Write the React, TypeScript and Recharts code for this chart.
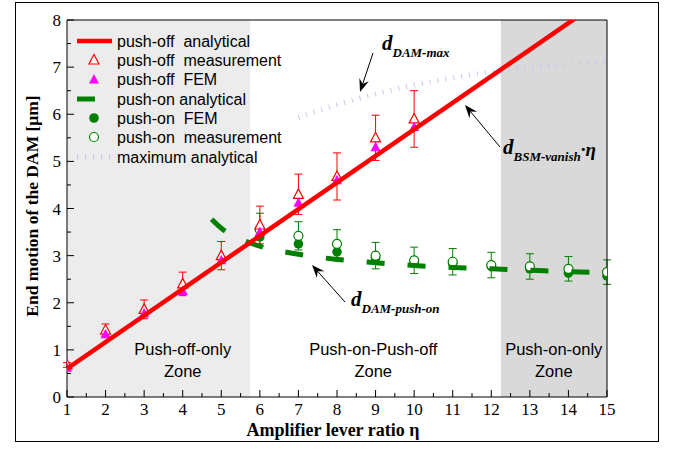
import React from "react";
import {
  ComposedChart,
  Line,
  Scatter,
  XAxis,
  YAxis,
  ReferenceArea,
  ErrorBar,
} from "recharts";

// ---- data ----
const xTicks = [1, 2, 3, 4, 5, 6, 7, 8, 9, 10, 11, 12, 13, 14, 15];
const yTicks = [0, 1, 2, 3, 4, 5, 6, 7, 8];

// right axis: voltage labels placed at the displacement they correspond to
const voltLabels = ["6V", "5.5V", "5V", "4.5V"];
const voltAt = [5.92, 3.45, 1.68, 0.68];
const voltMinorAt = [7.45, 6.85, 4.75, 4.3, 3.95, 2.95, 2.45, 2.15, 1.3, 0.25];

// push-off analytical (straight line, d_BSM-vanish * eta)
const pushOffAnaX = [1, 15];
const pushOffAnaY = [0.6, 8.5];

const pushOffX = [1, 2, 3, 4, 5, 6, 7, 8, 9, 10];
const pushOffMeas = [0.68, 1.42, 1.86, 2.4, 3.0, 3.65, 4.3, 4.68, 5.5, 5.9];
const pushOffMeasErr = [0.05, 0.13, 0.2, 0.25, 0.3, 0.4, 0.43, 0.5, 0.48, 0.6];
const pushOffFem = [0.62, 1.33, 1.77, 2.25, 2.9, 3.5, 4.12, 4.6, 5.3, 5.73];

// push-on analytical (dashed curve)
const pushOnAnaX = [4.75, 5, 5.5, 6, 7, 8, 9, 10, 11, 12, 13, 14, 15];
const pushOnAnaY = [3.77, 3.58, 3.35, 3.2, 3.03, 2.92, 2.85, 2.79, 2.75, 2.72, 2.69, 2.66, 2.64];

const pushOnX = [6, 7, 8, 9, 10, 11, 12, 13, 14, 15];
const pushOnFem = [3.4, 3.25, 3.08, 2.95, 2.85, 2.84, 2.77, 2.72, 2.63, 2.57];
const pushOnMeas = [3.55, 3.42, 3.25, 3.0, 2.9, 2.87, 2.8, 2.77, 2.72, 2.65];
const pushOnMeasErr = [0.35, 0.3, 0.3, 0.28, 0.28, 0.28, 0.27, 0.27, 0.26, 0.26];

// maximum analytical (d_DAM-max)
const maxAnaX = [7, 8, 9, 10, 11, 12, 13, 14, 15];
const maxAnaY = [5.93, 6.2, 6.43, 6.62, 6.77, 6.9, 6.99, 7.06, 7.12];

// zones
const zones = [
  { x1: 1, x2: 5.75, fill: "#ececec", label: ["Push-off-only", "Zone"], cx: 4.0 },
  { x1: 5.75, x2: 12.25, fill: "none", label: ["Push-on-Push-off", "Zone"], cx: 8.94 },
  { x1: 12.25, x2: 15, fill: "#d9d9d9", label: ["Push-on-only", "Zone"], cx: 13.62 },
];

// ---- look ----
const W = 677;
const H = 451;
const PLOT = { left: 67, right: 607, top: 20, bottom: 397 };
const SERIF = '"Liberation Serif", "Times New Roman", serif';
const SANS = '"Liberation Sans", Arial, sans-serif';
const RED = "#ff0000";
const MAGENTA = "#ff00ff";
const GREEN = "#008000";
const LAVENDER = "#c6c7ee";

const px = (v: number) => PLOT.left + ((v - 1) / 14) * (PLOT.right - PLOT.left);

const zip = (xs: number[], ys: number[], errs?: number[]) =>
  xs.map((x, i) => ({ x, y: ys[i], err: errs ? errs[i] : 0 }));

const halves = (arr: number[]) => arr.slice(0, -1).map((v) => v + 0.5);

function BottomTick({ x, y, payload }: any) {
  const major = Number.isInteger(payload.value);
  return (
    <g>
      <line x1={x} x2={x} y1={y} y2={y - (major ? 7 : 4)} stroke="#000" />
      {major && (
        <text x={x} y={y + 18} textAnchor="middle" fontFamily={SERIF} fontSize={17} fill="#000">
          {payload.value}
        </text>
      )}
    </g>
  );
}

function TopTick({ x, y, payload }: any) {
  const major = Number.isInteger(payload.value);
  return <line x1={x} x2={x} y1={y} y2={y + (major ? 7 : 4)} stroke="#000" />;
}

function LeftTick({ x, y, payload }: any) {
  const major = Number.isInteger(payload.value);
  return (
    <g>
      <line x1={x} x2={x + (major ? 7 : 4)} y1={y} y2={y} stroke="#000" />
      {major && (
        <text x={x - 6} y={y + 6} textAnchor="end" fontFamily={SERIF} fontSize={17} fill="#000">
          {payload.value}
        </text>
      )}
    </g>
  );
}

function RightTick({ x, y, payload }: any) {
  const idx = voltAt.indexOf(payload.value);
  const major = idx >= 0;
  return (
    <g>
      <line x1={x} x2={x - (major ? 7 : 4)} y1={y} y2={y} stroke="#000" />
      {major && (
        <text x={x + 6} y={y + 6} textAnchor="start" fontFamily={SERIF} fontSize={17} fill="#000">
          {voltLabels[idx]}
        </text>
      )}
    </g>
  );
}

const openTriangle = (p: any) => (
  <polygon
    points={`${p.cx},${p.cy - 5.5} ${p.cx - 5},${p.cy + 4} ${p.cx + 5},${p.cy + 4}`}
    fill="#fff"
    stroke={RED}
    strokeWidth={1.2}
  />
);
const filledTriangle = (p: any) => (
  <polygon
    points={`${p.cx},${p.cy - 5.5} ${p.cx - 5},${p.cy + 4} ${p.cx + 5},${p.cy + 4}`}
    fill={MAGENTA}
  />
);
const openCircle = (p: any) => (
  <circle cx={p.cx} cy={p.cy} r={4.5} fill="#fff" stroke={GREEN} strokeWidth={1.2} />
);
const filledCircle = (p: any) => <circle cx={p.cx} cy={p.cy} r={4.8} fill={GREEN} />;

function Arrow({ x1, y1, x2, y2 }: { x1: number; y1: number; x2: number; y2: number }) {
  const a = Math.atan2(y2 - y1, x2 - x1);
  const len = 13;
  const half = 5;
  const bx = x2 - len * Math.cos(a);
  const by = y2 - len * Math.sin(a);
  const nx = x2 - len * 0.65 * Math.cos(a);
  const ny = y2 - len * 0.65 * Math.sin(a);
  const lx = bx + half * Math.sin(a);
  const ly = by - half * Math.cos(a);
  const rx = bx - half * Math.sin(a);
  const ry = by + half * Math.cos(a);
  return (
    <g>
      <line x1={x1} y1={y1} x2={nx} y2={ny} stroke="#000" strokeWidth={1} />
      <polygon points={`${x2},${y2} ${lx},${ly} ${nx},${ny} ${rx},${ry}`} fill="#000" />
    </g>
  );
}

function DLabel({ x, y, sub, tail }: { x: number; y: number; sub: string; tail?: string }) {
  return (
    <text x={x} y={y} fontFamily={SERIF} fontWeight="bold" fontStyle="italic" fill="#000">
      <tspan fontSize={21}>d</tspan>
      <tspan fontSize={13} dy={7}>
        {sub}
      </tspan>
      {tail && (
        <tspan fontSize={19} dy={-5}>
          {tail}
        </tspan>
      )}
    </text>
  );
}

const legendRows = [
  "push-off  analytical",
  "push-off  measurement",
  "push-off  FEM",
  "push-on analytical",
  "push-on  FEM",
  "push-on  measurement",
  "maximum analytical",
];
const legendY = [41, 60, 79.5, 99, 118, 137, 157];

function LegendIcon({ i, y }: { i: number; y: number }) {
  const cx = 94;
  switch (i) {
    case 0:
      return <line x1={77} x2={112} y1={y} y2={y} stroke={RED} strokeWidth={4.5} />;
    case 1:
      return openTriangle({ cx, cy: y });
    case 2:
      return filledTriangle({ cx, cy: y });
    case 3:
      return <line x1={77} x2={95} y1={y} y2={y} stroke={GREEN} strokeWidth={5} />;
    case 4:
      return filledCircle({ cx, cy: y });
    case 5:
      return openCircle({ cx, cy: y });
    default:
      return (
        <line x1={77} x2={110} y1={y} y2={y} stroke={LAVENDER} strokeWidth={5} strokeDasharray="1 7" />
      );
  }
}

export default function App() {
  const ax = { xAxisId: "b", yAxisId: "l" };
  return (
    <div style={{ position: "absolute", left: 0, top: 0, width: W, height: H, background: "#fff" }}>
      <ComposedChart width={W} height={H} margin={{ top: 0, right: 0, bottom: 0, left: 0 }}>
        <XAxis
          xAxisId="b"
          type="number"
          dataKey="x"
          domain={[1, 15]}
          ticks={[...xTicks, ...halves(xTicks)]}
          interval={0}
          height={54}
          allowDataOverflow
          tickSize={0}
          tickMargin={0}
          tickLine={false}
          tick={<BottomTick />}
          axisLine={{ stroke: "#000" }}
        />
        <XAxis
          xAxisId="t"
          orientation="top"
          type="number"
          domain={[1, 15]}
          ticks={[...xTicks, ...halves(xTicks)]}
          interval={0}
          height={20}
          tickSize={0}
          tickMargin={0}
          tickLine={false}
          tick={<TopTick />}
          axisLine={{ stroke: "#000" }}
        />
        <YAxis
          yAxisId="l"
          type="number"
          domain={[0, 8]}
          ticks={[...yTicks, ...halves(yTicks)]}
          interval={0}
          width={67}
          allowDataOverflow
          tickSize={0}
          tickMargin={0}
          tickLine={false}
          tick={<LeftTick />}
          axisLine={{ stroke: "#000" }}
        />
        <YAxis
          yAxisId="r"
          orientation="right"
          type="number"
          domain={[0, 8]}
          ticks={[...voltAt, ...voltMinorAt]}
          interval={0}
          width={70}
          tickSize={0}
          tickMargin={0}
          tickLine={false}
          tick={<RightTick />}
          axisLine={{ stroke: "#000" }}
        />

        {zones
          .filter((z) => z.fill !== "none")
          .map((z) => (
            <ReferenceArea
              key={z.x1}
              {...ax}
              x1={z.x1}
              x2={z.x2}
              y1={0}
              y2={8}
              fill={z.fill}
              fillOpacity={1}
              stroke="none"
            />
          ))}

        <Line
          {...ax}
          data={zip(maxAnaX, maxAnaY)}
          dataKey="y"
          type="monotone"
          stroke={LAVENDER}
          strokeWidth={5}
          strokeDasharray="1 7"
          dot={false}
          isAnimationActive={false}
        />

        <Scatter {...ax} data={zip(pushOnX, pushOnFem)} dataKey="y" shape={filledCircle} isAnimationActive={false} />
        <Scatter
          {...ax}
          data={zip(pushOnX, pushOnMeas, pushOnMeasErr)}
          dataKey="y"
          shape={openCircle}
          isAnimationActive={false}
        >
          <ErrorBar dataKey="err" direction="y" width={4} stroke={GREEN} strokeWidth={1} />
        </Scatter>

        <Line
          {...ax}
          data={zip(pushOnAnaX, pushOnAnaY)}
          dataKey="y"
          type="monotone"
          stroke={GREEN}
          strokeWidth={5}
          strokeDasharray="18 23"
          dot={false}
          isAnimationActive={false}
          zIndex={700}
        />

        <Scatter
          {...ax}
          data={zip(pushOffX, pushOffMeas, pushOffMeasErr)}
          dataKey="y"
          shape={openTriangle}
          isAnimationActive={false}
        >
          <ErrorBar dataKey="err" direction="y" width={4} stroke={RED} strokeWidth={1} />
        </Scatter>
        <Scatter {...ax} data={zip(pushOffX, pushOffFem)} dataKey="y" shape={filledTriangle} isAnimationActive={false} />

        <Line
          {...ax}
          data={zip(pushOffAnaX, pushOffAnaY)}
          dataKey="y"
          type="linear"
          stroke={RED}
          strokeWidth={4.5}
          dot={false}
          isAnimationActive={false}
          zIndex={700}
        />
      </ComposedChart>

      <svg
        width={W}
        height={H}
        style={{ position: "absolute", left: 0, top: 0, pointerEvents: "none" }}
      >
        <rect x={15.5} y={2.5} width={643} height={439} fill="none" stroke="#000" strokeWidth={1} />

        {/* zone names */}
        {zones.map((z) => (
          <text key={z.label[0]} textAnchor="middle" fontFamily={SANS} fontSize={16.5} fill="#000">
            <tspan x={px(z.cx)} y={355}>
              {z.label[0]}
            </tspan>
            <tspan x={px(z.cx)} y={377}>
              {z.label[1]}
            </tspan>
          </text>
        ))}

        {/* legend */}
        {legendRows.map((label, i) => (
          <g key={label}>
            <LegendIcon i={i} y={legendY[i]} />
            <text
              x={117}
              y={legendY[i] + 5.5}
              fontFamily={SANS}
              fontSize={16}
              fill="#000"
              style={{ whiteSpace: "pre" }}
            >
              {label}
            </text>
          </g>
        ))}

        {/* annotations */}
        <DLabel x={382} y={50} sub="DAM-max" />
        <Arrow x1={373} y1={53} x2={360} y2={92} />
        <DLabel x={503} y={154} sub="BSM-vanish" tail="·η" />
        <Arrow x1={500} y1={147} x2={465} y2={105} />
        <DLabel x={351} y={306} sub="DAM-push-on" />
        <Arrow x1={345} y1={302} x2={312} y2={265} />

        {/* axis titles */}
        <text
          x={333}
          y={436}
          textAnchor="middle"
          fontFamily={SERIF}
          fontWeight="bold"
          fontSize={18}
          fill="#000"
        >
          Amplifier lever ratio η
        </text>
        <text
          transform="translate(38 206) rotate(-90)"
          textAnchor="middle"
          fontFamily={SERIF}
          fontWeight="bold"
          fontSize={17.5}
          fill="#000"
        >
          End motion of the DAM [μm]
        </text>
      </svg>
    </div>
  );
}
